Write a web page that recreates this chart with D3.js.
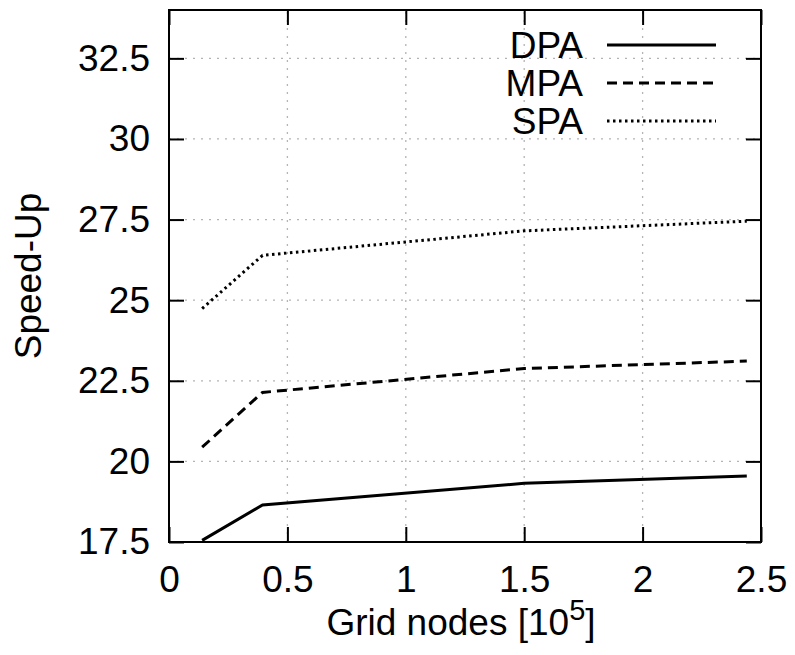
<!DOCTYPE html>
<html>
<head>
<meta charset="utf-8">
<script src="https://cdn.jsdelivr.net/npm/d3@7"></script>
<style>
	body { margin: 0; background: #fff; }
	svg { display: block; font-family: 'Liberation Sans', Arial, sans-serif; }
</style>
</head>
<body>
<svg id="chart" width="795" height="655"></svg>
<script>
// values (x in units of 10^5 grid nodes)
const gridNodes = [0.14, 0.395, 1.5, 2.44];
const dpa = [17.55, 18.65, 19.32, 19.55];
const mpa = [20.44, 22.14, 22.88, 23.11];
const spa = [24.74, 26.39, 27.15, 27.45];
const seriesNames = ['DPA', 'MPA', 'SPA'];
const xTicks = [0, 0.5, 1, 1.5, 2, 2.5];
const yTicks = [17.5, 20, 22.5, 25, 27.5, 30, 32.5];

const plotLeft = 169;
const plotRight = 761;
const plotTop = 10;
const plotBottom = 542;
const fontSize = 37;

const x = d3.scaleLinear().domain([0, 2.5]).range([plotLeft, plotRight]);
const y = d3.scaleLinear().domain([17.5, 34]).range([plotBottom, plotTop]);
const plain = d => String(d);

const svg = d3.select('#chart');

// dotted grid
const grid = svg.append('g')
	.attr('stroke', '#b4b4b4')
	.attr('stroke-width', 1.3)
	.attr('stroke-dasharray', '2,6');
grid.selectAll('.gx')
	.data(xTicks.filter(d => d > 0 && d < 2.5))
	.join('line')
	.attr('x1', d => x(d)).attr('x2', d => x(d))
	.attr('y1', plotBottom).attr('y2', plotTop);
grid.selectAll('.gy')
	.data(yTicks.filter(d => d > 17.5))
	.join('line')
	.attr('x1', plotLeft).attr('x2', plotRight)
	.attr('y1', d => y(d)).attr('y2', d => y(d));

// axes, ticks pointing inward
const styleAxis = g => {
	g.select('.domain').remove();
	g.selectAll('.tick line').attr('stroke', '#000').attr('stroke-width', 2);
	g.selectAll('.tick text')
		.attr('fill', '#000')
		.style('font-size', fontSize + 'px')
		.style('font-family', "'Liberation Sans', Arial, sans-serif");
};

svg.append('g')
	.attr('transform', `translate(0,${plotBottom})`)
	.call(d3.axisBottom(x).tickValues(xTicks).tickFormat(plain).tickSizeInner(-15).tickSizeOuter(0).tickPadding(24))
	.call(styleAxis);
svg.append('g')
	.attr('transform', `translate(0,${plotTop})`)
	.call(d3.axisTop(x).tickValues(xTicks).tickSizeInner(-15).tickSizeOuter(0).tickFormat(''))
	.call(styleAxis);
svg.append('g')
	.attr('transform', `translate(${plotLeft},0)`)
	.call(d3.axisLeft(y).tickValues(yTicks).tickFormat(plain).tickSizeInner(-15).tickSizeOuter(0).tickPadding(19))
	.call(styleAxis);
svg.append('g')
	.attr('transform', `translate(${plotRight},0)`)
	.call(d3.axisRight(y).tickValues(yTicks).tickSizeInner(-15).tickSizeOuter(0).tickFormat(''))
	.call(styleAxis);

// frame
svg.append('rect')
	.attr('x', plotLeft).attr('y', plotTop)
	.attr('width', plotRight - plotLeft).attr('height', plotBottom - plotTop)
	.attr('fill', 'none')
	.attr('stroke', '#000')
	.attr('stroke-width', 2);

// series
const dashes = ['none', '10,6', '2.5,3.5'];
const series = [dpa, mpa, spa];
const line = d3.line()
	.x((d, i) => x(gridNodes[i]))
	.y(d => y(d));

svg.append('g').selectAll('path')
	.data(series)
	.join('path')
	.attr('d', line)
	.attr('fill', 'none')
	.attr('stroke', '#000')
	.attr('stroke-width', 3)
	.attr('stroke-dasharray', (d, i) => dashes[i]);

// legend
const legend = svg.append('g');
seriesNames.forEach((name, i) => {
	const ly = 45 + i * 38;
	legend.append('text')
		.attr('x', 583)
		.attr('y', ly + 13)
		.attr('text-anchor', 'end')
		.style('font-size', fontSize + 'px')
		.text(name);
	legend.append('line')
		.attr('x1', 607).attr('x2', 716)
		.attr('y1', ly).attr('y2', ly)
		.attr('stroke', '#000')
		.attr('stroke-width', 3)
		.attr('stroke-dasharray', dashes[i]);
});

// axis titles
const xTitle = svg.append('text')
	.attr('x', (plotLeft + plotRight) / 2 - 4)
	.attr('y', 635)
	.attr('text-anchor', 'middle')
	.style('font-size', fontSize + 'px');
xTitle.append('tspan').text('Grid nodes [10');
xTitle.append('tspan').attr('dy', -15).style('font-size', '29px').text('5');
xTitle.append('tspan').attr('dy', 15).text(']');

svg.append('text')
	.attr('transform', `translate(41,${(plotTop + plotBottom) / 2}) rotate(-90)`)
	.attr('text-anchor', 'middle')
	.style('font-size', fontSize + 'px')
	.text('Speed-Up');
</script>
</body>
</html>
